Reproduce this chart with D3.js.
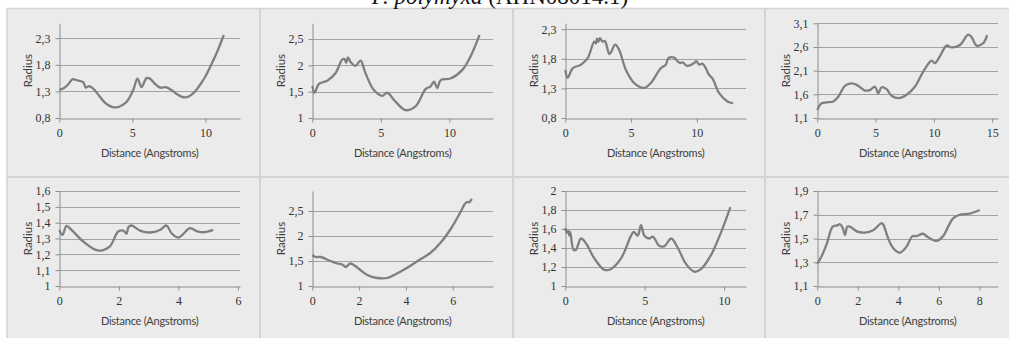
<!DOCTYPE html>
<html>
<head>
<meta charset="utf-8">
<script src="https://cdn.jsdelivr.net/npm/d3@7"></script>
<style>
  body { margin: 0; background: #fff; }
  svg { display: block; }
</style>
</head>
<body>
<div id="chart"></div>
<script>
// data, one pair of arrays per panel
var p1x = [0,0.3,0.6,0.92,1.2,1.5,1.65,1.82,2.05,2.4,2.78,3.2,3.6,3.95,4.3,4.6,5.07,5.35,5.63,5.97,6.2,6.6,6.9,7.3,7.7,8.1,8.5,8.9,9.3,9.65,10.0,10.4,10.8,11.26];
var p1y = [1.33,1.36,1.43,1.53,1.51,1.49,1.47,1.37,1.40,1.33,1.2,1.07,1.01,1.0,1.04,1.1,1.33,1.54,1.38,1.55,1.54,1.43,1.37,1.38,1.32,1.24,1.19,1.21,1.3,1.43,1.58,1.8,2.04,2.36];

var p2x = [0,0.17,0.48,1.09,1.69,2.18,2.35,2.47,2.6,2.78,3.15,3.52,3.88,4.49,5.1,5.46,6.07,6.8,7.53,8.26,8.63,8.87,9.12,9.36,10.08,10.93,11.54,12.2];
var p2y = [1.61,1.48,1.65,1.71,1.85,2.11,2.12,2.05,2.15,2.07,1.99,2.09,1.85,1.53,1.42,1.48,1.31,1.15,1.22,1.55,1.6,1.69,1.57,1.72,1.75,1.91,2.17,2.58];

var p3x = [0,0.18,0.56,1.19,1.7,2.2,2.33,2.41,2.51,2.63,2.84,3.01,3.34,3.47,3.8,4.1,4.61,5.24,6.0,6.5,7.26,7.64,7.84,8.27,8.45,8.71,8.91,9.29,9.8,9.97,10.18,10.43,10.68,10.93,11.19,11.7,12.33,12.76];
var p3y = [1.61,1.48,1.64,1.70,1.81,2.09,2.06,2.14,2.09,2.15,2.09,2.10,1.88,1.91,2.04,1.95,1.61,1.39,1.31,1.39,1.64,1.7,1.81,1.82,1.78,1.73,1.74,1.68,1.73,1.76,1.70,1.72,1.64,1.53,1.47,1.22,1.08,1.05];

var p4x = [0,0.37,0.8,1.37,1.8,2.37,2.94,3.37,4.09,4.51,4.94,5.23,5.51,5.94,6.37,7.03,7.66,8.37,9.09,9.8,10.09,10.51,11.09,11.51,12.23,12.94,13.23,13.66,14.23,14.57];
var p4y = [1.27,1.41,1.43,1.45,1.55,1.78,1.83,1.8,1.68,1.69,1.76,1.62,1.75,1.71,1.57,1.52,1.59,1.76,2.08,2.31,2.26,2.40,2.63,2.59,2.64,2.86,2.81,2.63,2.68,2.85];

var p5x = [0,0.11,0.24,0.41,0.81,1.2,1.42,1.7,1.98,2.15,2.26,2.32,2.43,2.71,3.05,3.38,3.6,3.77,4.0,4.16,4.38,4.66,4.89,5.17];
var p5y = [1.354,1.323,1.38,1.354,1.28,1.23,1.224,1.25,1.344,1.35,1.33,1.371,1.382,1.35,1.338,1.354,1.382,1.333,1.306,1.327,1.365,1.344,1.34,1.354];

var p6x = [0,0.14,0.36,0.78,1.07,1.28,1.42,1.49,1.63,1.92,2.35,2.77,3.2,3.62,4.0,4.47,5.04,5.47,5.9,6.3,6.5,6.6,6.68,6.82];
var p6y = [1.62,1.58,1.58,1.5,1.45,1.43,1.38,1.40,1.45,1.37,1.22,1.16,1.16,1.25,1.35,1.49,1.66,1.86,2.13,2.45,2.63,2.68,2.67,2.74];

var p7x = [0,0.1,0.19,0.25,0.31,0.52,0.67,0.99,1.3,1.83,2.46,2.88,3.51,4.14,4.31,4.56,4.77,4.98,5.3,5.51,5.93,6.25,6.67,7.09,7.61,8.14,8.56,9.19,9.82,10.4];
var p7y = [1.61,1.56,1.58,1.53,1.57,1.38,1.38,1.5,1.45,1.29,1.17,1.18,1.29,1.53,1.57,1.53,1.64,1.53,1.5,1.52,1.42,1.42,1.5,1.40,1.23,1.15,1.18,1.33,1.57,1.83];

var p8x = [0,0.21,0.46,0.76,0.99,1.12,1.25,1.37,1.48,1.61,1.94,2.35,2.76,3.17,3.25,3.5,3.74,4.07,4.4,4.7,4.89,5.22,5.47,5.88,6.21,6.46,6.7,7.03,7.53,8.02];
var p8y = [1.287,1.35,1.45,1.6,1.61,1.62,1.59,1.53,1.6,1.6,1.56,1.55,1.57,1.63,1.62,1.5,1.42,1.38,1.43,1.52,1.52,1.54,1.51,1.48,1.52,1.6,1.67,1.7,1.71,1.74];

// axis settings per panel
var xMax   = [12.37, 13.18, 13.74, 15.5, 6.07, 7.72, 11.38, 8.92];
var yMin   = [0.8, 1, 0.8, 1.1, 1, 1, 1, 1.1];
var yMax   = [2.58, 2.8, 2.4, 3.1, 1.6, 2.9, 2, 1.9];
var xTicks = [[0,5,10],[0,5,10],[0,5,10],[0,5,10,15],[0,2,4,6],[0,2,4,6],[0,5,10],[0,2,4,6,8]];
var yTicks = [
  [0.8,1.3,1.8,2.3],
  [1,1.5,2,2.5],
  [0.8,1.3,1.8,2.3],
  [1.1,1.6,2.1,2.6,3.1],
  [1,1.1,1.2,1.3,1.4,1.5,1.6],
  [1,1.5,2,2.5],
  [1,1.2,1.4,1.6,1.8,2],
  [1.1,1.3,1.5,1.7,1.9]
];
var series = [[p1x,p1y],[p2x,p2y],[p3x,p3y],[p4x,p4y],[p5x,p5y],[p6x,p6y],[p7x,p7y],[p8x,p8y]];

var W = 1009, H = 338;
var panelLeft = [7, 260, 513, 765];
var rowAxis = [{top: 23.3, bottom: 118}, {top: 191, bottom: 286}];

var locale = d3.formatLocale({decimal: ",", thousands: ".", grouping: [3], currency: ["", ""]});
var fmt = locale.format("~g");

var svg = d3.select("#chart").append("svg")
    .attr("width", W)
    .attr("height", H);

// panel background and separators
svg.append("rect")
    .attr("x", 7).attr("y", 8.5)
    .attr("width", W - 7).attr("height", H - 8.5)
    .attr("fill", "#ebebeb");

var sep = "#d3d3d3";
svg.append("line").attr("x1", 7).attr("x2", W).attr("y1", 8.5).attr("y2", 8.5)
    .attr("stroke", sep).attr("stroke-width", 1.5);
svg.append("line").attr("x1", 7).attr("x2", 7).attr("y1", 8.5).attr("y2", H)
    .attr("stroke", sep).attr("stroke-width", 1.5);
svg.append("line").attr("x1", 7).attr("x2", W).attr("y1", 177).attr("y2", 177)
    .attr("stroke", sep).attr("stroke-width", 2);
[260, 513, 765].forEach(function(x) {
  svg.append("line").attr("x1", x).attr("x2", x).attr("y1", 8.5).attr("y2", H)
      .attr("stroke", sep).attr("stroke-width", 2);
});

// title, cut off at the top like in the source figure
var title = svg.append("text")
    .attr("x", 500).attr("y", 3.5)
    .attr("text-anchor", "middle")
    .style("font-family", "'Liberation Serif', 'Times New Roman', serif")
    .style("font-size", "23px")
    .attr("fill", "#111");
title.append("tspan").style("font-style", "italic").text("P. polymyxa");
title.append("tspan").text(" (AHN08014.1)");

var line = d3.line().curve(d3.curveCatmullRom.alpha(0.5));

series.forEach(function(s, i) {
  var col = i % 4, row = Math.floor(i / 4);
  var left = panelLeft[col] + 52.3, right = panelLeft[col] + 233;
  var top = rowAxis[row].top, bottom = rowAxis[row].bottom;

  var x = d3.scaleLinear().domain([0, xMax[i]]).range([left, right]);
  var y = d3.scaleLinear().domain([yMin[i], yMax[i]]).range([bottom, top]);

  var g = svg.append("g");

  // gridlines
  g.selectAll(".grid")
      .data(yTicks[i].slice(1))
    .enter().append("line")
      .attr("x1", left).attr("x2", right)
      .attr("y1", function(d) { return Math.round(y(d)) + 0.5; })
      .attr("y2", function(d) { return Math.round(y(d)) + 0.5; })
      .attr("stroke", "#a3a3a3")
      .attr("stroke-width", 1);

  // axes
  var xAxisG = g.append("g")
      .attr("transform", "translate(0," + (Math.round(bottom) + 0.5) + ")")
      .call(d3.axisBottom(x).tickValues(xTicks[i]).tickFormat(fmt)
        .tickSize(4).tickSizeOuter(0).tickPadding(6));
  var yAxisG = g.append("g")
      .attr("transform", "translate(" + (Math.round(left) + 0.5) + ",0)")
      .call(d3.axisLeft(y).tickValues(yTicks[i]).tickFormat(fmt)
        .tickSize(4).tickSizeOuter(0).tickPadding(5));

  [xAxisG, yAxisG].forEach(function(a) {
    a.select(".domain").attr("stroke", "#8c8c8c");
    a.selectAll(".tick line").attr("stroke", "#8c8c8c");
    a.selectAll(".tick text")
        .attr("fill", "#333")
        .style("font-family", "'Liberation Serif', 'Times New Roman', serif")
        .style("font-size", "12px");
  });

  // axis titles
  g.append("text")
      .attr("x", (left + right) / 2)
      .attr("y", bottom + 39)
      .attr("text-anchor", "middle")
      .attr("fill", "#404040")
      .style("font-family", "Lato, 'Open Sans', sans-serif")
      .style("font-size", "11px")
      .style("letter-spacing", "-0.25px")
      .text("Distance (Angstroms)");
  g.append("text")
      .attr("transform", "translate(" + (left - 27) + "," + ((top + bottom) / 2) + ") rotate(-90)")
      .attr("text-anchor", "middle")
      .attr("fill", "#404040")
      .style("font-family", "Lato, 'Open Sans', sans-serif")
      .style("font-size", "11.5px")
      .text("Radius");

  // the profile line
  var pts = s[0].map(function(d, k) { return [x(d), y(s[1][k])]; });
  g.append("path")
      .attr("d", line(pts))
      .attr("fill", "none")
      .attr("stroke", "#7f7f7f")
      .attr("stroke-width", 2.3)
      .attr("stroke-linejoin", "round");
});
</script>
</body>
</html>
